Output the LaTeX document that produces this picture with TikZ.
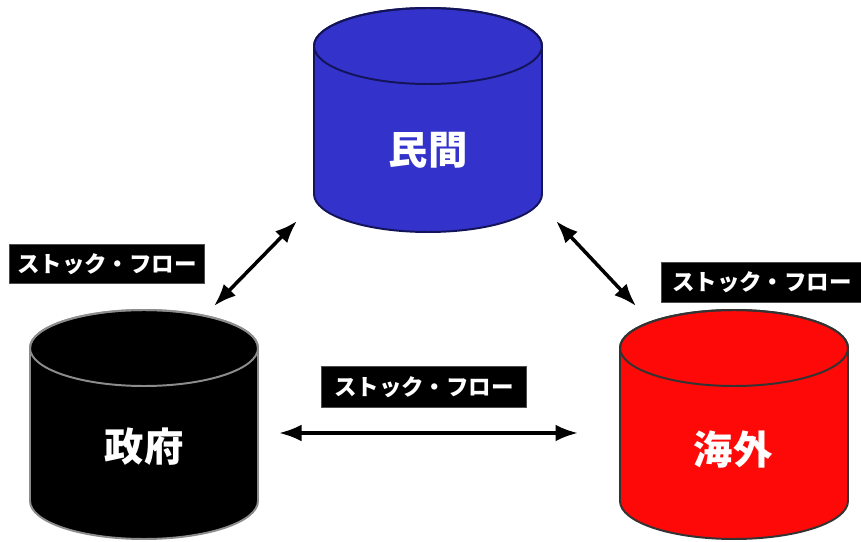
\documentclass[tikz,border=0pt]{standalone}
\usepackage{fontspec}
\newfontfamily\jpfont{Noto Sans CJK JP}
\usepackage{tikz}
\usetikzlibrary{arrows.meta, positioning, calc}

\definecolor{minblue}{RGB}{51,51,204}
\definecolor{minedge}{RGB}{20,20,90}
\definecolor{kaired}{RGB}{255,8,8}

% cylinder: centre x, top ellipse y, bottom ellipse y, fill, edge
\newcommand{\drum}[5]{
  \filldraw[fill=#4, draw=#5, line width=1.4pt]
    ($(#1,#2)+(-114,0)$) -- ($(#1,#3)+(-114,0)$)
    arc[start angle=180, end angle=360, x radius=114, y radius=38]
    -- ($(#1,#2)+(114,0)$)
    arc[start angle=0, end angle=180, x radius=114, y radius=38] -- cycle;
  \draw[draw=#5, line width=1.4pt] (#1,#2) ellipse [x radius=114, y radius=38];
}

\begin{document}
\begin{tikzpicture}[x=0.025cm, y=0.025cm,
      drumtext/.style={font=\jpfont\bfseries\fontsize{28}{30}\selectfont, text=white},
      flow/.style={rectangle, fill=black, draw=black!70, text=white, inner sep=0pt,
        minimum width=4.875cm, minimum height=0.975cm, font=\jpfont\bfseries\fontsize{16}{18}\selectfont},
      link/.style={{Latex[length=16pt, width=12pt]}-{Latex[length=16pt, width=12pt]}, line width=2.5pt}]
      \useasboundingbox (0,0) rectangle (861,541);

      % Cylinders
      \drum{428}{495}{347}{minblue}{minedge}
      \drum{144}{193}{40}{black}{black!45}
      \drum{734}{193}{40}{kaired}{black!80}

      \node[drumtext] (min) at (428,391) {民間};
      \node[drumtext] (seifu) at (144,94) {政府};
      \node[drumtext] (kaigai) at (733,91) {海外};

      % Labels
      \node[flow] (flowL) at (107,277) {ストック・フロー};
      \node[flow, minimum width=5.025cm, minimum height=1cm] (flowR) at (762,259) {ストック・フロー};
      \node[flow, minimum width=5.125cm, minimum height=1.025cm] (flowM) at (424,154) {ストック・フロー};

      % Arrows
      \coordinate (minL) at (297,320);
      \coordinate (minR) at (556,320);
      \coordinate (seifuT) at (214,235);
      \coordinate (seifuR) at (279,108);
      \coordinate (kaigaiT) at (636,235);
      \coordinate (kaigaiL) at (578,108);
      \draw[link] (minL) -- (seifuT);
      \draw[link] (minR) -- (kaigaiT);
      \draw[link] (seifuR) -- (kaigaiL);
\end{tikzpicture}
\end{document}
